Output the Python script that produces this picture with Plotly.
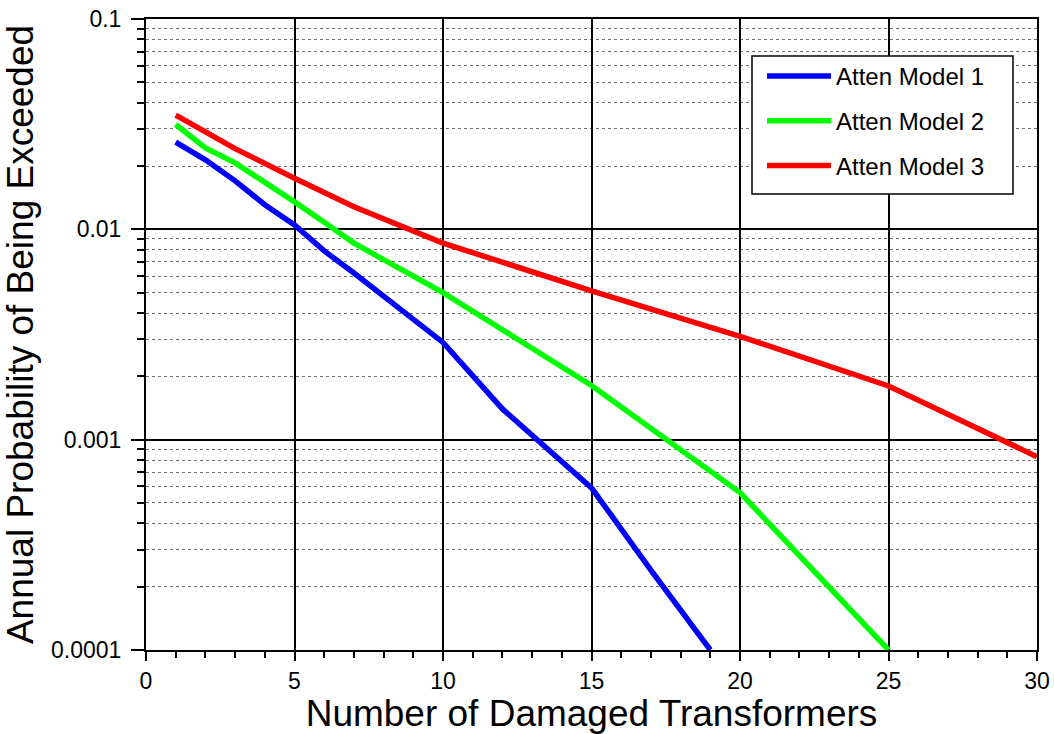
import plotly.graph_objects as go

x_m1 = [1, 2, 3, 4, 5, 6, 7, 8, 9, 10, 12, 15, 17, 19]
y_m1 = [0.026, 0.0214, 0.017, 0.0131, 0.0105, 0.0079, 0.0062, 0.0048, 0.0037, 0.0029, 0.0014, 0.00059, 0.00024, 0.0001]

x_m2 = [1, 2, 3, 4, 5, 6, 7, 10, 15, 20, 25]
y_m2 = [0.0315, 0.0244, 0.0207, 0.0168, 0.0135, 0.0108, 0.0086, 0.0050, 0.00181, 0.00056, 0.0001]

x_m3 = [1, 3, 5, 7, 10, 15, 20, 25, 30]
y_m3 = [0.0349, 0.0242, 0.0175, 0.0128, 0.0086, 0.0051, 0.0031, 0.0018, 0.00083]

names = ["Atten Model 1", "Atten Model 2", "Atten Model 3"]
colors = ["#0000ff", "#00ff00", "#ff0000"]

y_major = [0.0001, 0.001, 0.01, 0.1]
y_major_text = ["0.0001", "0.001", "0.01", "0.1"]
y_minor = [m * d for d in [0.0001, 0.001, 0.01] for m in range(2, 10)]

FONT = "Liberation Sans, Arial, Helvetica, sans-serif"

fig = go.Figure()
for xs, ys, n, c in zip([x_m1, x_m2, x_m3], [y_m1, y_m2, y_m3], names, colors):
    fig.add_trace(go.Scatter(x=xs, y=ys, mode="lines", name=n, legendgroup=n,
                             line=dict(color=c, width=5.5)))

W, H = 1054, 734
L, R, T, B = 146, 17, 19, 84
pw, ph = W - L - R, H - T - B

def px(xp):
    return (xp - L) / pw

def py(yp):
    return (H - B - yp) / ph

# legend frame (white box with black border)
fig.add_shape(type="rect", xref="paper", yref="paper",
              x0=px(752), x1=px(1013), y0=py(194), y1=py(56),
              line=dict(color="black", width=1.5), fillcolor="white", layer="above")

fig.update_layout(
    width=W, height=H,
    margin=dict(l=L, r=R, t=T, b=B, autoexpand=False),
    paper_bgcolor="white", plot_bgcolor="white",
    font=dict(family=FONT, color="black"),
    showlegend=True,
    legend=dict(
        x=px(762), y=py(54), xanchor="left", yanchor="top",
        bgcolor="rgba(0,0,0,0)", borderwidth=0,
        font=dict(size=24, family=FONT),
        itemwidth=64, tracegroupgap=10.5,
    ),
    xaxis=dict(
        range=[0, 30], tickmode="array", tickvals=[0, 5, 10, 15, 20, 25, 30],
        ticks="outside", ticklen=9, tickwidth=2, tickcolor="black",
        showline=True, linecolor="black", linewidth=2, mirror=True,
        showgrid=True, gridcolor="black", gridwidth=1.5, zeroline=False,
        tickfont=dict(size=23), automargin=False,
        minor=dict(dtick=1, ticks="outside", ticklen=6, tickwidth=1.5, tickcolor="black", showgrid=False),
        title=dict(text="Number of Damaged Transformers", font=dict(size=37), standoff=4),
    ),
    yaxis=dict(
        type="log", range=[-4.00001, -0.99999], tickmode="array",
        tickvals=y_major, ticktext=y_major_text,
        ticks="outside", ticklen=13, tickwidth=2, tickcolor="black",
        showline=True, linecolor="black", linewidth=2, mirror=True,
        showgrid=True, gridcolor="black", gridwidth=1.5, zeroline=False,
        tickfont=dict(size=23), automargin=False, ticklabelstandoff=5,
        minor=dict(tickvals=y_minor, ticks="outside", ticklen=7, tickwidth=1.5, tickcolor="black",
                   showgrid=True, gridcolor="#6e6e6e", gridwidth=1.2, griddash="dot"),
        title=dict(text="Annual Probability of Being Exceeded", font=dict(size=37), standoff=12),
    ),
)

fig.write_html(
    "out.html",
    config={"displayModeBar": False},
    post_script="document.body.style.margin='0';document.body.style.overflow='hidden';"
                "document.documentElement.style.overflow='hidden';",
)
